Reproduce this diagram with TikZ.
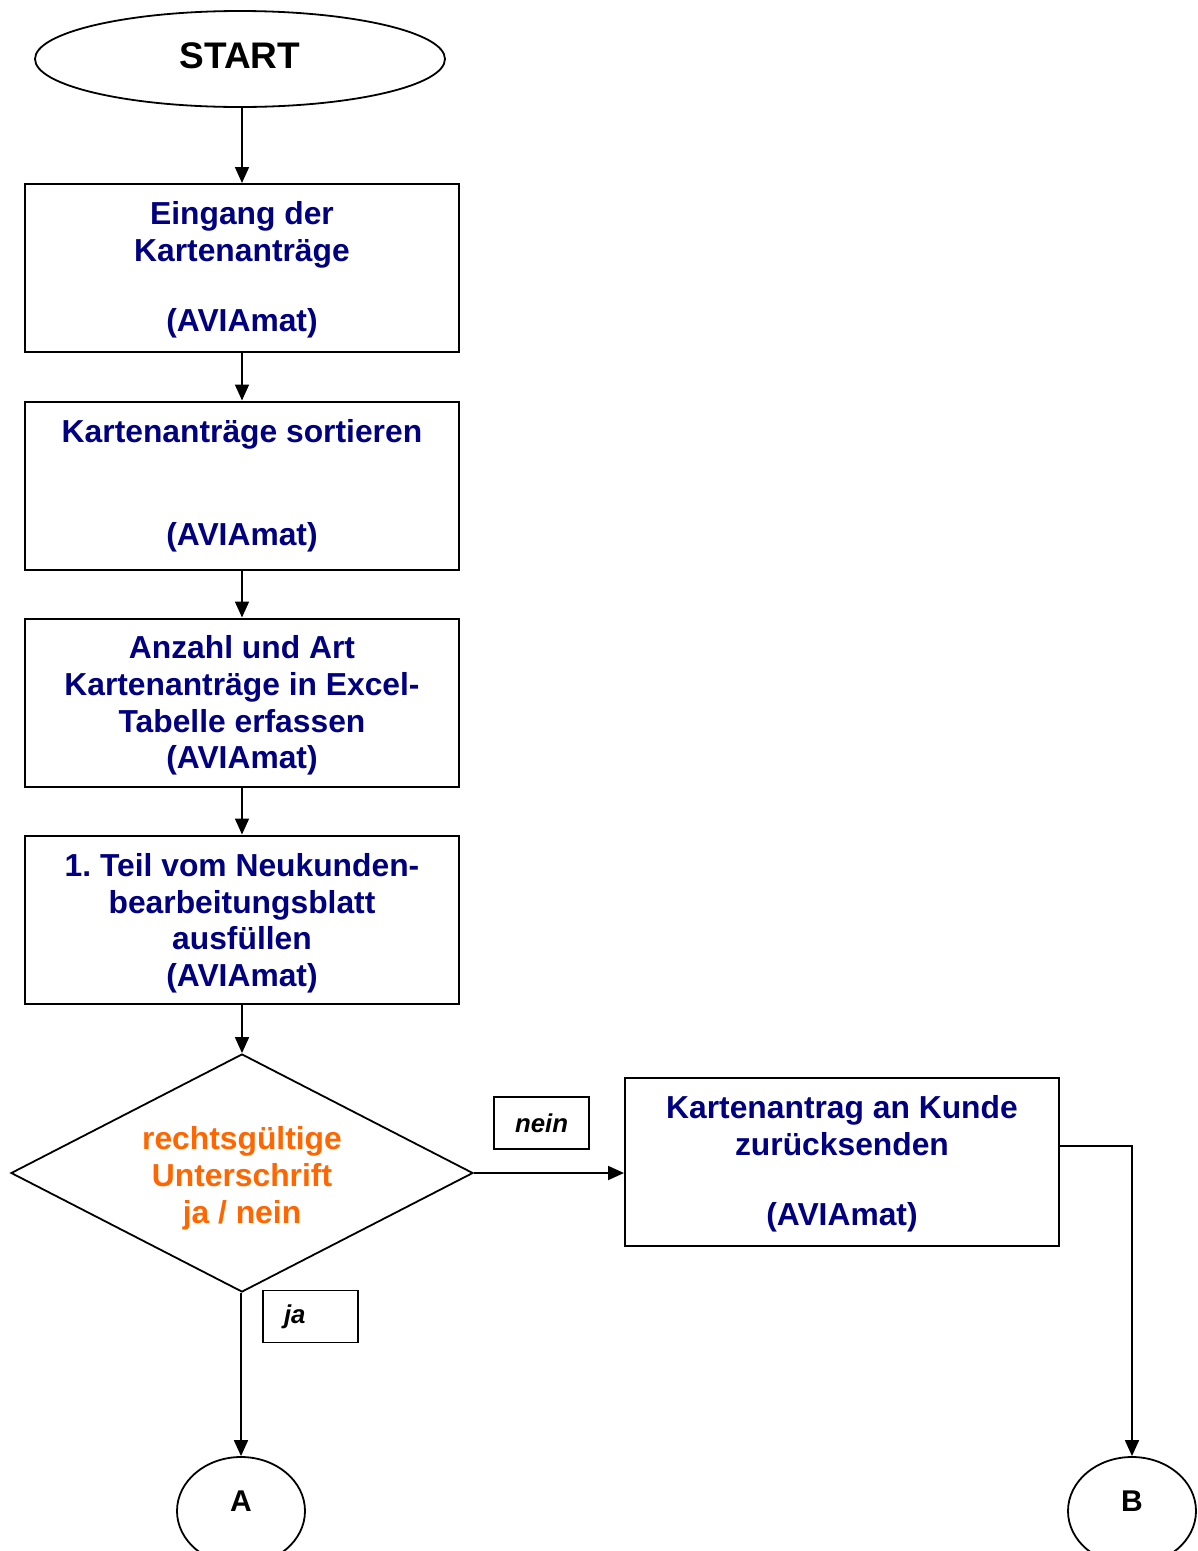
\documentclass[tikz,border=0pt]{standalone}
\usepackage{fontspec}
\setmainfont{Liberation Sans}
\usetikzlibrary{shapes.geometric,arrows.meta}
\definecolor{navy}{RGB}{0,0,128}
\definecolor{sorange}{RGB}{255,102,0}
\frenchspacing
\newcommand{\shiftdown}[2]{\raisebox{-#1}[\height][\depth]{\begin{tabular}{@{}c@{}}#2\end{tabular}}}
\begin{document}
\begin{tikzpicture}[x=1pt,y=-1pt,
  procbox/.style={draw, line width=2pt, rectangle, minimum width=434pt, minimum height=168pt,
    inner sep=0pt, align=center, text=navy, font=\bfseries\fontsize{31.8}{36.6}\selectfont},
  startnode/.style={draw, line width=1.8pt, ellipse, minimum width=410pt, minimum height=96pt,
    inner sep=0pt, font=\bfseries\fontsize{37}{40}\selectfont},
  decision/.style={draw, line width=1.8pt, diamond, aspect=1.94, minimum width=462pt, minimum height=238pt,
    inner sep=0pt, align=center, text=sorange, font=\bfseries\fontsize{31.8}{37}\selectfont},
  labelbox/.style={draw, line width=1.8pt, rectangle, text width=53pt, inner xsep=21pt, inner ysep=0pt,
    minimum height=52pt, align=left, font=\bfseries\itshape\fontsize{25.8}{28}\selectfont},
  connector/.style={draw, line width=1.8pt, ellipse, minimum width=128pt, minimum height=108pt,
    inner sep=0pt, font=\bfseries\fontsize{30}{32}\selectfont},
  arr/.style={line width=1.8pt, -{Triangle[length=16pt,width=14pt]}}
]
\useasboundingbox (0,0) rectangle (1198,1551);

\node[startnode] (start) at (240,59) {\raisebox{3pt}[\height][\depth]{START}};
\node[procbox] (b1) at (242,268) {\shiftdown{3pt}{Eingang der\\Kartenanträge\\[33.5pt](AVIAmat)}};
\node[procbox] (b2) at (242,485.5) {\shiftdown{1pt}{Kartenanträge sortieren\\[66.5pt](AVIAmat)}};
\node[procbox] (b3) at (242,702.5) {\shiftdown{4pt}{Anzahl und Art\\Kartenanträge in Excel-\\Tabelle erfassen\\(AVIAmat)}};
\node[procbox] (b4) at (242,919.5) {\shiftdown{4.5pt}{1. Teil vom Neukunden-\\bearbeitungsblatt\\ausfüllen\\(AVIAmat)}};
\node[decision] (dec) at (242,1173) {\shiftdown{6pt}{rechtsgültige\\Unterschrift\\ja / nein}};
\node[procbox] (b5) at (842,1162) {\shiftdown{3pt}{Kartenantrag an Kunde\\zurücksenden\\[33.5pt](AVIAmat)}};
\node[labelbox] (nein) at (541.5,1123) {nein};
\node[labelbox] (ja) at (310.5,1316.5) {ja};
\node[connector] (A) at (241,1511) {\raisebox{10pt}[\height][\depth]{A}};
\node[connector] (B) at (1132,1511) {\raisebox{10pt}[\height][\depth]{B}};

\draw[arr] (b1.north |- start.south) -- (b1);
\draw[arr] (b1) -- (b2);
\draw[arr] (b2) -- (b3);
\draw[arr] (b3) -- (b4);
\draw[arr] (b4) -- (dec);
\draw[arr] (dec.east) -- (dec.east -| b5.west);
\draw[arr] (dec.south -| A.north) -- (A.north);
\draw[arr] ([yshift=16pt]b5.east) -| (B.north);
\end{tikzpicture}
\end{document}
